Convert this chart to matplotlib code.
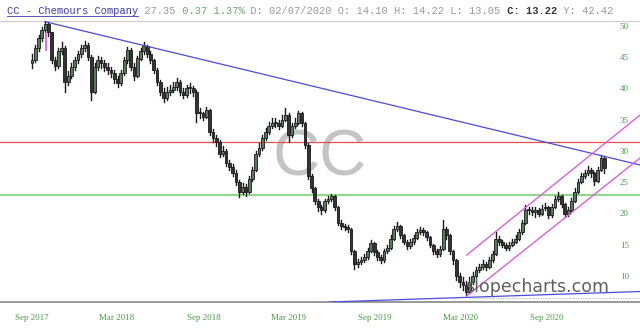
import matplotlib
matplotlib.use("Agg")
import matplotlib.pyplot as plt
import numpy as np
import pandas as pd
from matplotlib.patches import Rectangle

# ---------------- data (weekly bars) ----------------
start_date = "2017-09-01"
first_open = 44.0
closes = [44.5,46.5,48,49.3,50.3,49,44.5,43.6,46,46.5,
41,42,43.5,44.5,45.5,46.5,47,45,39.5,43.5,
44.5,44,43.5,43,42.5,41.5,40.8,42.5,44.5,46.2,
43.5,42,44.8,46,46.8,45.5,44.5,43,41,39.5,
38.5,39.5,39.8,40.2,41,39.5,39,40,40,39.5,
36,36,35.5,36.5,33,32,31.5,29.5,30,28,
27.5,26.5,25,23.5,24.3,23.5,25.5,27,29.5,30.5,
32,33,34,34.5,34.5,34,35,35.8,32.5,34,
34.5,36,34.5,31,26,24,22,21,20.5,22,
22.3,22.8,21,18.5,18,17.8,17.5,14,12,12.2,
12.5,13,14,15.3,13.8,13,12.5,14,14.5,16,
17.5,18,16.5,15.5,14.8,15.5,16.1,17,17.3,17,
16.2,15,14,13.5,14.4,17.5,16.5,14,12.5,10,
9,8.5,7.5,9,10,11,11.5,12,11.5,12.5,
13.5,16,15.5,15,14.5,15,15.5,16,17,18.5,
20.5,20.5,20.3,20.5,20,20.8,21,19.7,21,22.3,
22.8,21.5,20,20.5,22,23.5,25,26,26.5,27,
26.5,25.2,27,28.8,27.35]
highs = [45.5,47,48.6,49.9,50.8,50.7,49,45,46.5,47.4,
46.8,42.8,44,45,46,47,47.6,47.3,45.3,44,
45.2,45,44.6,44,43.5,43,42,43,45,46.6,
46.4,44,45.2,46.5,47.4,47,46,44.8,43.3,41.4,
40,40.2,40.6,41,41.7,41.3,40,40.6,40.8,40.4,
39.7,36.8,36.3,37.1,36.7,33.5,32.5,31.8,30.8,30.3,
28.6,27.9,26.9,25.3,24.9,24.7,26,27.5,30,31.2,
32.5,33.6,34.6,35.2,35.2,35,35.7,36.9,36,34.5,
35.2,36.4,36.2,34.7,31.2,26.3,24.3,22.4,21.4,22.4,
22.8,23.1,23,21.2,18.9,18.4,18.2,17.7,14.2,12.8,
13.1,13.6,14.5,15.8,15.5,14.1,13.3,14.4,15,16.5,
18,18.6,18.2,16.8,15.8,16,16.6,17.5,17.8,17.6,
17.2,16.4,15.2,14.3,14.8,19,17.9,16.7,14.2,12.7,
10.5,9.8,9.2,9.8,10.6,11.5,12,12.6,12.3,13,
14,17.1,16.4,15.8,15.3,15.4,16,16.5,17.5,19,
21.4,21.1,21,21,20.9,21.3,21.6,21.2,21.5,22.8,
23.4,23,21.7,21,22.5,24,25.5,26.5,27,27.6,
27.3,26.7,27.5,29.4,29.2]
lows = [43.2,44.2,46,47.6,49,48.4,44,43,43.3,45.5,
39.4,40.5,41.6,43,44,45,46,44.5,38.2,39.2,
43,43.3,42.8,42.3,41.8,40.8,40.2,40.5,42.2,44,
43,41.3,41.8,44.5,45.5,45,44,42.5,40.5,39,
37.9,38.2,39,39.4,39.8,39,38.4,38.7,39.3,38.8,
34.6,35.3,35,35.2,32.5,31.5,30.8,29,29.2,27.6,
27,26,24.5,22.7,23.1,22.8,23.2,25.2,26.8,29.2,
30.2,31.7,32.7,33.7,33.8,33.5,33.8,34.8,31.5,32.2,
33.6,34.3,34,30.5,25.5,23.5,21.5,20.4,19.9,20.3,
21.7,22,20.6,18.1,17.5,17.3,17,13.6,11.2,11.4,
11.9,12.2,12.8,13.8,13.4,12.6,12.1,12.3,13.7,14.3,
15.8,17.2,16.1,15.1,14.4,14.5,15.2,15.9,16.7,16.6,
15.8,14.6,13.6,13.1,13.2,14.2,16,13.6,12,9.4,
8.3,7.8,7,7.3,8.7,9.8,10.7,11.2,11,11.3,
12.3,13.3,15,14.6,14.1,14.2,14.8,15.3,15.8,16.8,
18.3,20,19.8,19.5,19.6,19.8,20.5,19.3,19.5,20.8,
22,21.1,19.4,19.6,20.3,21.8,23.3,24.8,25.7,26.2,
25.8,24.6,25,26.8,26.5]

tick_dates = ["2017-09-01", "2018-03-01", "2018-09-01", "2019-03-01",
              "2019-09-01", "2020-03-01", "2020-09-01"]
tick_labels = ["Sep 2017", "Mar 2018", "Sep 2018", "Mar 2019",
               "Sep 2019", "Mar 2020", "Sep 2020"]
y_ticks = [10, 15, 20, 25, 30, 35, 40, 45, 50]

red_level = 31.4
green_level = 23.0
downtrend_dates = ["2017-09-28", "2021-03-18"]
downtrend_vals = [50.7, 27.76]
support_dates = ["2019-05-28", "2021-03-18"]
support_vals = [5.84, 7.52]
chan_up_dates = ["2020-03-14", "2021-03-18"]
chan_up_vals = [13.36, 35.76]
chan_lo_dates = ["2020-03-14", "2021-03-18"]
chan_lo_vals = [6.8, 28.88]
gap_date = "2017-10-01"
gap_vals = [48.9, 46.2]

# ---------------- figure ----------------
W, H = 640, 331
fig = plt.figure(figsize=(W / 100, H / 100), dpi=100)
ax = fig.add_axes([0, (H - 302) / H, 1, (302 - 21) / H])

dates = pd.date_range(start_date, periods=len(closes), freq="7D")
x = matplotlib.dates.date2num(dates)
opens = [first_open] + closes[:-1]

bw = 6.0
for xi, o, h, l, c in zip(x, opens, highs, lows, closes):
    up = c >= o
    ax.plot([xi, xi], [l, h], color="#1a1a1a", lw=1.0, zorder=3)
    bottom = min(o, c)
    height = max(abs(c - o), 0.2)
    ax.add_patch(Rectangle((xi - bw / 2, bottom), bw, height,
                           facecolor="#5a785a" if up else "#333333",
                           edgecolor="#1a1a1a", lw=0.6, zorder=4))

dn = lambda lst: matplotlib.dates.date2num(pd.to_datetime(lst))

ax.axhline(red_level, color="#e05050", lw=0.9, zorder=2)
ax.axhline(green_level, color="#80d880", lw=1.3, zorder=2)
ax.plot(dn(downtrend_dates), downtrend_vals, color="#4a4ae0", lw=0.9, zorder=5)
ax.plot(dn(support_dates), support_vals, color="#4a4ae0", lw=0.9, zorder=5)
ax.plot(dn(chan_up_dates), chan_up_vals, color="#e050e0", lw=0.9, zorder=5)
ax.plot(dn(chan_lo_dates), chan_lo_vals, color="#e050e0", lw=0.9, zorder=5)
gx = dn([gap_date])[0]
ax.plot([gx, gx], gap_vals, color="#e050e0", lw=1.2, zorder=6)
ax.plot(dn(["2020-03-18", "2021-03-18"]), [6.45, 6.45], color="#bbbbbb",
        lw=0.8, ls=(0, (1, 1)), zorder=1)

# limits
x0 = matplotlib.dates.date2num(pd.Timestamp("2017-09-01")) - 32 * 2.128
x1 = matplotlib.dates.date2num(pd.Timestamp("2017-09-01")) + (640 - 32) * 2.128
ax.set_xlim(x0, x1)
ax.set_ylim(5.84, 50.8)

# watermarks
ax.text(0.5, 0.512, "CC", transform=ax.transAxes, ha="center", va="center",
        fontsize=47, color="#c4c4c4", family="Liberation Sans", zorder=1)
ax.text(0.839, 0.053, "slopecharts.com", transform=ax.transAxes, ha="center",
        va="center", fontsize=12.5, color="#606060", family="DejaVu Sans",
        zorder=7)

# spines
for s in ["left", "right"]:
    ax.spines[s].set_visible(False)
ax.spines["top"].set_color("#cccccc")
ax.spines["top"].set_linestyle((0, (1, 1)))
ax.spines["top"].set_linewidth(0.8)
ax.spines["bottom"].set_color("#888888")
ax.spines["bottom"].set_linewidth(1.2)

ax.set_xticks(dn(tick_dates))
ax.set_xticklabels(tick_labels)
ax.tick_params(axis="x", length=0, pad=9, labelsize=6.5, labelcolor="#4d9a4d")
for t in ax.get_xticklabels():
    t.set_family("Liberation Serif")

ax.yaxis.tick_right()
ax.set_yticks(y_ticks)
ax.set_yticklabels([str(v) for v in y_ticks])
ax.tick_params(axis="y", length=0, pad=-14.5, labelsize=6.5, labelcolor="#4d9a4d")
for t in ax.get_yticklabels():
    t.set_family("Liberation Serif")
    t.set_horizontalalignment("left")

# header line (monospace)
pieces = [
    ("CC - Chemours Company", "#3a3ab0", "normal"),
    (" 27.35", "#9a9a9a", "normal"),
    (" 0.37 1.37%", "#6aaa6a", "normal"),
    (" D: 02/07/2020 O: 14.10 H: 14.22 L: 13.05", "#9a9a9a", "normal"),
    (" C: 13.22", "#333333", "bold"),
    (" Y: 42.42", "#9a9a9a", "normal"),
]
fs = 7.5
cw = fs * 100 / 72 * 0.6
cx = 7
ty = 11
for txt, col, wt in pieces:
    fig.text(cx / W, (H - ty) / H, txt, ha="left", va="center", fontsize=fs,
             color=col, family="Liberation Mono", weight=wt)
    cx += len(txt) * cw
ul_len = len(pieces[0][0]) * cw
fig.add_artist(plt.Line2D([7 / W, (7 + ul_len) / W], [(H - 16) / H] * 2,
                          color="#3a3ab0", lw=0.6))

fig.savefig("out.png", dpi=100)
